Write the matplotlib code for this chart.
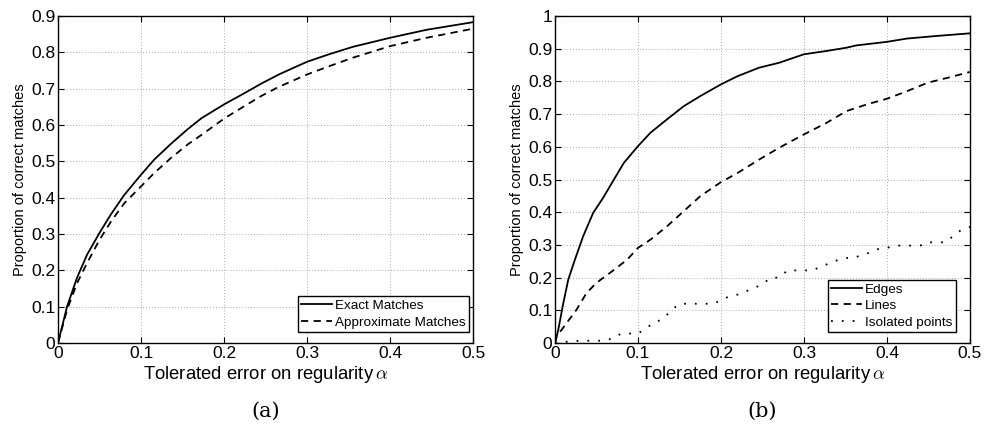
import matplotlib
matplotlib.use('Agg')
import matplotlib.pyplot as plt

plt.rcParams['font.family'] = ['Liberation Sans', 'DejaVu Sans']
plt.rcParams['mathtext.fontset'] = 'cm'

# panel (a)
alpha_a = [0, 0.011, 0.023, 0.035, 0.05, 0.064, 0.08, 0.1, 0.116, 0.136, 0.156, 0.173, 0.201,
           0.221, 0.245, 0.266, 0.3, 0.327, 0.355, 0.4, 0.444, 0.5]
exact = [0, 0.101, 0.18, 0.243, 0.303, 0.355, 0.408, 0.463, 0.505, 0.548, 0.588, 0.619, 0.658,
         0.683, 0.714, 0.739, 0.774, 0.795, 0.815, 0.84, 0.862, 0.883]
approx = [0, 0.092, 0.165, 0.22, 0.284, 0.335, 0.385, 0.431, 0.468, 0.509, 0.546, 0.573, 0.619,
          0.647, 0.68, 0.705, 0.739, 0.762, 0.785, 0.817, 0.84, 0.865]

# panel (b)
alpha_e = [0, 0.004, 0.01, 0.016, 0.024, 0.034, 0.046, 0.058, 0.071, 0.083, 0.1, 0.115, 0.135,
           0.155, 0.175, 0.2, 0.22, 0.246, 0.27, 0.3, 0.327, 0.351, 0.363, 0.4, 0.424, 0.46, 0.5]
edges = [0, 0.041, 0.122, 0.194, 0.255, 0.327, 0.398, 0.444, 0.5, 0.551, 0.602, 0.643, 0.684,
         0.724, 0.755, 0.791, 0.816, 0.842, 0.857, 0.883, 0.893, 0.903, 0.91, 0.921, 0.931, 0.939, 0.947]
alpha_l = [0, 0.002, 0.014, 0.026, 0.038, 0.05, 0.066, 0.087, 0.1, 0.115, 0.135, 0.155, 0.175,
           0.2, 0.22, 0.246, 0.27, 0.3, 0.327, 0.351, 0.376, 0.4, 0.424, 0.449, 0.473, 0.5]
lines = [0, 0.02, 0.061, 0.102, 0.153, 0.184, 0.214, 0.255, 0.291, 0.316, 0.357, 0.403, 0.449,
         0.492, 0.52, 0.561, 0.597, 0.638, 0.673, 0.709, 0.73, 0.747, 0.77, 0.796, 0.811, 0.829]
alpha_p = [i / 100 for i in range(51)]
points = [0, 0.003, 0.005, 0.007, 0.007, 0.007, 0.007, 0.015, 0.029, 0.029, 0.029,
          0.046, 0.063, 0.073, 0.1, 0.12, 0.12, 0.12, 0.12, 0.12, 0.13,
          0.143, 0.148, 0.158, 0.168, 0.18, 0.2, 0.2, 0.222, 0.222, 0.222,
          0.222, 0.233, 0.243, 0.253, 0.26, 0.26, 0.27, 0.277, 0.288, 0.291,
          0.298, 0.298, 0.298, 0.298, 0.308, 0.308, 0.308, 0.327, 0.347, 0.355]

fig = plt.figure(figsize=(9.89, 4.29), dpi=100)
ax1 = fig.add_axes([58/989, 1-343/429, 415/989, 327/429])
ax2 = fig.add_axes([555/989, 1-343/429, 415/989, 327/429])

ax1.plot(alpha_a, exact, '-', color='black', lw=1.3, label='Exact Matches')
ax1.plot(alpha_a, approx, '--', color='black', lw=1.3, dashes=(4, 3), label='Approximate Matches')
ax1.set_ylim(0, 0.9)
ax1.set_yticks([0, 0.1, 0.2, 0.3, 0.4, 0.5, 0.6, 0.7, 0.8, 0.9])
ax1.set_yticklabels(['0', '0.1', '0.2', '0.3', '0.4', '0.5', '0.6', '0.7', '0.8', '0.9'])

ax2.plot(alpha_e, edges, '-', color='black', lw=1.3, label='Edges')
ax2.plot(alpha_l, lines, '--', color='black', lw=1.3, dashes=(4, 3), label='Lines')
ax2.plot(alpha_p, points, color='black', lw=1.3, linestyle=(0, (1, 5)), label='Isolated points')
ax2.set_ylim(0, 1)
ax2.set_yticks([0, 0.1, 0.2, 0.3, 0.4, 0.5, 0.6, 0.7, 0.8, 0.9, 1])
ax2.set_yticklabels(['0', '0.1', '0.2', '0.3', '0.4', '0.5', '0.6', '0.7', '0.8', '0.9', '1'])

for ax, tag, anchor in [(ax1, '(a)', (0.99, 0.034)), (ax2, '(b)', (0.966, 0.034))]:
    ax.set_xlim(0, 0.5)
    ax.set_xticks([0, 0.1, 0.2, 0.3, 0.4, 0.5])
    ax.set_xticklabels(['0', '0.1', '0.2', '0.3', '0.4', '0.5'])
    ax.tick_params(direction='in', labelsize=12.5, length=4, top=True, right=True)
    ax.tick_params(axis='x', pad=2.5)
    ax.tick_params(axis='y', pad=2)
    ax.grid(True, linestyle=(0, (1, 2)), color='#aaaaaa', lw=0.7)
    ax.set_xlabel(r'Tolerated error on regularity$\,\alpha$', fontsize=13.3, labelpad=2)
    ax.set_ylabel('Proportion of correct matches', fontsize=10.5, labelpad=3)
    for s in ax.spines.values():
        s.set_linewidth(1.0)
    leg = ax.legend(loc='lower right', bbox_to_anchor=anchor, fontsize=9.7, fancybox=False,
                    edgecolor='black', framealpha=1, handlelength=2.3, handletextpad=0.2,
                    borderpad=0.25, labelspacing=0.3, borderaxespad=0)
    leg.get_frame().set_linewidth(1.0)
    ax.text(0.5, -0.18, tag, transform=ax.transAxes, ha='center', va='top',
            fontsize=15, family='DejaVu Serif')

fig.savefig('out.png', dpi=100)
